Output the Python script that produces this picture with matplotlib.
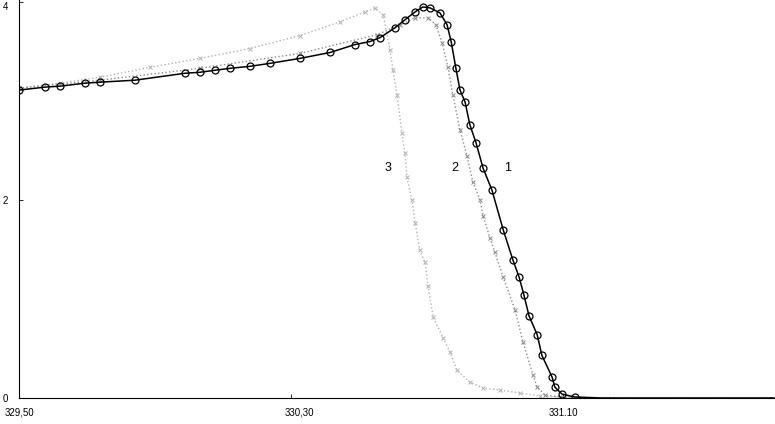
import numpy as np
import matplotlib
matplotlib.use("Agg")
import matplotlib.pyplot as plt
import matplotlib.transforms as mtransforms

# curve 1 (solid, open circles)
x1 = [329.500, 329.576, 329.621, 329.694, 329.738, 329.841, 329.988, 330.032, 330.076,
      330.121, 330.179, 330.238, 330.326, 330.415, 330.488, 330.532, 330.562, 330.606,
      330.635, 330.665, 330.688, 330.709, 330.738, 330.759, 330.771, 330.785, 330.797,
      330.812, 330.826, 330.844, 330.865, 330.891, 330.924, 330.953, 330.971, 330.985,
      331.000, 331.024, 331.038, 331.068, 331.076, 331.097, 331.135, 331.209, 331.350,
      331.500, 331.720]
y1 = [3.11, 3.14, 3.15, 3.18, 3.19, 3.21, 3.28, 3.29, 3.31, 3.33, 3.35, 3.38, 3.43,
      3.49, 3.57, 3.60, 3.64, 3.74, 3.82, 3.90, 3.95, 3.94, 3.89, 3.77, 3.60, 3.33,
      3.11, 2.99, 2.76, 2.58, 2.32, 2.10, 1.70, 1.39, 1.22, 1.04, 0.83, 0.64, 0.43,
      0.21, 0.11, 0.04, 0.01, 0.00, 0.00, 0.00, 0.00]

# curve 2 (dotted, grey crosses)
x2 = [329.500, 329.738, 330.032, 330.326, 330.553, 330.621, 330.665, 330.703, 330.726,
      330.744, 330.762, 330.776, 330.797, 330.818, 330.835, 330.856, 330.865, 330.885,
      330.900, 330.924, 330.959, 330.982, 331.012, 331.024, 331.047, 331.091, 331.250,
      331.500, 331.720]
y2 = [3.13, 3.21, 3.33, 3.48, 3.67, 3.77, 3.84, 3.84, 3.77, 3.59, 3.34, 3.06, 2.71,
      2.44, 2.18, 2.00, 1.84, 1.62, 1.47, 1.22, 0.89, 0.57, 0.23, 0.11, 0.03, 0.01,
      0.00, 0.00, 0.00]

# curve 3 (dotted, light grey crosses)
x3 = [329.500, 329.621, 329.738, 329.885, 330.032, 330.179, 330.326, 330.444, 330.518,
      330.547, 330.571, 330.591, 330.600, 330.612, 330.626, 330.635, 330.641, 330.656,
      330.665, 330.679, 330.694, 330.703, 330.718, 330.747, 330.768, 330.788, 330.826,
      330.865, 330.915, 330.974, 331.032, 331.091, 331.300, 331.720]
y3 = [3.13, 3.18, 3.24, 3.34, 3.43, 3.53, 3.66, 3.80, 3.90, 3.94, 3.87, 3.52, 3.31,
      3.06, 2.68, 2.47, 2.23, 2.00, 1.77, 1.49, 1.37, 1.13, 0.82, 0.61, 0.46, 0.28,
      0.16, 0.10, 0.08, 0.05, 0.02, 0.01, 0.00, 0.00]

xticks = [329.5, 330.3, 331.1]
xtick_labels = ["329,50", "330,30", "331.10"]
yticks = [0, 2, 4]
curve_labels = ["3", "2", "1"]
label_x = [330.585, 330.782, 330.938]
label_y = [2.32, 2.32, 2.32]

plt.rcParams['font.family'] = ['Liberation Sans', 'DejaVu Sans']

fig = plt.figure(figsize=(7.75, 4.24), dpi=100)
ax = fig.add_axes([19 / 775, 26 / 424, 756 / 775, 398 / 424])

ax.plot(x3, y3, color='#b3b3b3', linestyle=':', linewidth=1.0,
        marker='x', markersize=3, markeredgewidth=0.7, markevery=slice(0, -2))
ax.plot(x2, y2, color='#8a8a8a', linestyle=':', linewidth=1.0,
        marker='x', markersize=3, markeredgewidth=0.7, markevery=slice(0, -3))
ax.plot(x1, y1, color='black', linestyle='-', linewidth=1.1,
        marker='o', markersize=5, markerfacecolor='none', markeredgewidth=0.9,
        markevery=slice(0, -4))

for t, lx, ly in zip(curve_labels, label_x, label_y):
    ax.text(lx, ly, t, fontsize=9, ha='center', va='center')

ax.set_xlim(329.5, 331.7235)
ax.set_ylim(0, 4.02)
ax.set_xticks(xticks)
ax.set_xticklabels(xtick_labels)
ax.set_yticks(yticks)
ax.set_yticklabels([str(v) for v in yticks])
ax.tick_params(axis='both', labelsize=7, direction='in', length=3, width=0.6)
ax.tick_params(axis='x', pad=7)
ax.tick_params(axis='y', pad=8)

# keep the top "4" inside the figure, nudge middle x label like the scan
fig.canvas.draw()
ylabs = ax.get_yticklabels()
ylabs[-1].set_verticalalignment('top')
ylabs[-1].set_y(4.02)
xlabs = ax.get_xticklabels()
xlabs[1].set_transform(xlabs[1].get_transform() +
                       mtransforms.ScaledTranslation(8 / 100, 0, fig.dpi_scale_trans))

ax.spines['top'].set_visible(False)
ax.spines['right'].set_visible(False)
ax.spines['left'].set_linewidth(0.8)
ax.spines['bottom'].set_linewidth(0.8)

fig.savefig("out.png", dpi=100)
